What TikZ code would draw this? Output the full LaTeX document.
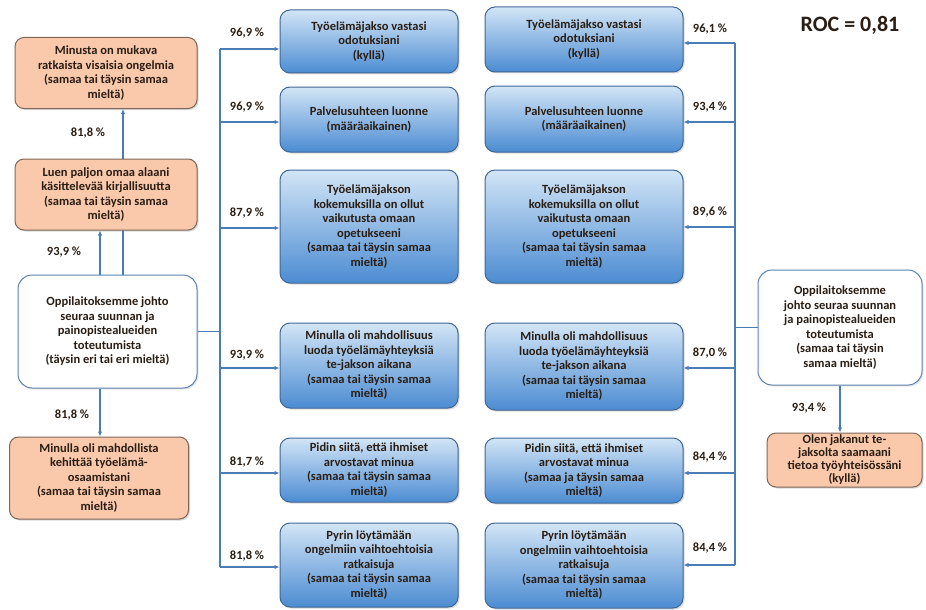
\documentclass[tikz,border=0pt]{standalone}
\usepackage{fontspec}
\setmainfont{Carlito}
\usetikzlibrary{arrows.meta,shadows,backgrounds}

\definecolor{txt}{HTML}{2A1E14}
\definecolor{conncol}{HTML}{4A7DB8}
\definecolor{bluetop}{HTML}{D2E5F6}
\definecolor{bluebot}{HTML}{4C8CD2}
\definecolor{blueedge}{HTML}{3F6896}
\definecolor{peach}{HTML}{FAC9AB}
\definecolor{peachedge}{HTML}{7E6658}
\definecolor{whiteedge}{HTML}{5B82AE}

\tikzset{
  boxtext/.style={font=\bfseries\fontsize{12.5}{14.5}\selectfont, text=txt, align=center, inner sep=1pt},
  bluebox/.style={boxtext, draw=blueedge, line width=1pt, rounded corners=10pt,
    top color=bluetop, bottom color=bluebot,
    drop shadow={opacity=0.3, shadow xshift=1.5pt, shadow yshift=-1.5pt}},
  peachbox/.style={boxtext, draw=peachedge, line width=1pt, rounded corners=9pt, fill=peach,
    drop shadow={opacity=0.3, shadow xshift=1.5pt, shadow yshift=-1.5pt}},
  whitebox/.style={boxtext, draw=whiteedge, line width=1pt, rounded corners=14pt, fill=white,
    drop shadow={opacity=0.2, shadow xshift=1.5pt, shadow yshift=-1.5pt}},
  pct/.style={font=\bfseries\fontsize{12.5}{14}\selectfont, text=txt, inner sep=1pt},
  wire/.style={draw=conncol, line width=1.1pt},
  conn/.style={wire, -{Latex[length=5pt,width=4.5pt]}},
}

\begin{document}
\begin{tikzpicture}[x=1pt, y=-1pt]
\useasboundingbox (0,0) rectangle (926,610);

% left column
\node[peachbox, minimum width=182pt, minimum height=71pt] (L1) at (106,73)
  {Minusta on mukava\\ratkaista visaisia ongelmia\\(samaa tai täysin samaa\\mieltä)};
\node[peachbox, minimum width=182pt, minimum height=71pt] (L2) at (106,194.5)
  {Luen paljon omaa alaani\\käsittelevää kirjallisuutta\\(samaa tai täysin samaa\\mieltä)};
\node[whitebox, minimum width=179pt, minimum height=113pt] (O) at (107.5,331.5)
  {Oppilaitoksemme johto\\seuraa suunnan ja\\painopistealueiden\\toteutumista\\(täysin eri tai eri mieltä)};
\node[peachbox, minimum width=179pt, minimum height=82pt] (L3) at (99,478)
  {Minulla oli mahdollista\\kehittää työelämä-\\osaamistani\\(samaa tai täysin samaa\\mieltä)};

% middle column
\node[bluebox, minimum width=178pt, minimum height=63pt] (M1) at (369,41.5)
  {Työelämäjakso vastasi\\odotuksiani\\(kyllä)};
\node[bluebox, minimum width=178pt, minimum height=65pt] (M2) at (369,119.5)
  {Palvelusuhteen luonne\\(määräaikainen)};
\node[bluebox, minimum width=178pt, minimum height=113pt] (M3) at (369,226.5)
  {Työelämäjakson\\kokemuksilla on ollut\\vaikutusta omaan\\opetukseeni\\(samaa tai täysin samaa\\mieltä)};
\node[bluebox, minimum width=178pt, minimum height=85pt] (M4) at (369,365.5)
  {Minulla oli mahdollisuus\\luoda työelämäyhteyksiä\\te-jakson aikana\\(samaa tai täysin samaa\\mieltä)};
\node[bluebox, minimum width=178pt, minimum height=64pt] (M5) at (369,470)
  {Pidin siitä, että ihmiset\\arvostavat minua\\(samaa tai täysin samaa\\mieltä)};
\node[bluebox, minimum width=178pt, minimum height=84pt] (M6) at (369,565)
  {Pyrin löytämään\\ongelmiin vaihtoehtoisia\\ratkaisuja\\(samaa tai täysin samaa\\mieltä)};

% right column
\node[bluebox, minimum width=198pt, minimum height=65pt] (R1) at (584,39.5)
  {Työelämäjakso vastasi\\odotuksiani\\(kyllä)};
\node[bluebox, minimum width=198pt, minimum height=66pt] (R2) at (584,119)
  {Palvelusuhteen luonne\\(määräaikainen)};
\node[bluebox, minimum width=198pt, minimum height=113pt] (R3) at (584,226.5)
  {Työelämäjakson\\kokemuksilla on ollut\\vaikutusta omaan\\opetukseeni\\(samaa tai täysin samaa\\mieltä)};
\node[bluebox, minimum width=198pt, minimum height=87pt] (R4) at (584,366.5)
  {Minulla oli mahdollisuus\\luoda työelämäyhteyksiä\\te-jakson aikana\\(samaa tai täysin samaa\\mieltä)};
\node[bluebox, minimum width=198pt, minimum height=65pt] (R5) at (584,470.5)
  {Pidin siitä, että ihmiset\\arvostavat minua\\(samaa ja täysin samaa\\mieltä)};
\node[bluebox, minimum width=198pt, minimum height=85pt] (R6) at (584,565.5)
  {Pyrin löytämään\\ongelmiin vaihtoehtoisia\\ratkaisuja\\(samaa tai täysin samaa\\mieltä)};

% far right
\node[whitebox, minimum width=164pt, minimum height=115pt] (O2) at (840,327.5)
  {Oppilaitoksemme\\johto seuraa suunnan\\ja painopistealueiden\\toteutumista\\(samaa tai täysin\\samaa mieltä)};
\node[peachbox, minimum width=155pt, minimum height=54pt, inner sep=0pt,
  font=\bfseries\fontsize{12.5}{13}\selectfont] (O3) at (844.5,460)
  {Olen jakanut te-\\jaksolta saamaani\\tietoa työyhteisössäni\\(kyllä)};

\node[font=\bfseries\fontsize{22}{24}\selectfont, text=txt] (roc) at (850,25) {ROC = 0,81};

% trunk points
\coordinate (a1) at (220,49);  \coordinate (a2) at (220,122);
\coordinate (a3) at (220,228); \coordinate (a4) at (220,368);
\coordinate (a5) at (220,473); \coordinate (a6) at (220,567);
\coordinate (b1) at (735,43);  \coordinate (b2) at (735,122);
\coordinate (b3) at (735,227); \coordinate (b4) at (735,368);
\coordinate (b5) at (735,473); \coordinate (b6) at (735,565);
\coordinate (v1) at (100,0);   \coordinate (v2) at (123,0);

% left column connectors
\begin{pgfonlayer}{background}
  \draw[conn] (O.north -| v2) -- (L1.south -| v2);
\end{pgfonlayer}
\draw[conn] (O.north -| v1) -- (L2.south -| v1);
\draw[conn] (O.south -| v1) -- (L3.north -| v1);

% left trunk
\draw[wire] (a1) -- (a6);
\draw[wire] (O.east) -- (O.east -| a1);
\foreach \i in {1,...,6} \draw[conn] (a\i) -- (M\i.west |- a\i);

% right trunk
\draw[wire] (b1) -- (b6);
\draw[wire] (O2.west) -- (O2.west -| b1);
\foreach \i in {1,...,6} \draw[conn] (b\i) -- (R\i.east |- b\i);
\draw[conn] (O2.south) -- (O3.north -| O2.south);

% percentages
\node[pct] (p1) at (88,133) {81,8 \%};
\node[pct] (p2) at (64,252) {93,9 \%};
\node[pct] (p3) at (72,415) {81,8 \%};
\node[pct] (pm1) at (247,33) {96,9 \%};
\node[pct] (pm2) at (247,107) {96,9 \%};
\node[pct] (pm3) at (247,213) {87,9 \%};
\node[pct] (pm4) at (247,355) {93,9 \%};
\node[pct] (pm5) at (247,462) {81,7 \%};
\node[pct] (pm6) at (247,556) {81,8 \%};
\node[pct] (pr1) at (710,29) {96,1 \%};
\node[pct] (pr2) at (710,107) {93,4 \%};
\node[pct] (pr3) at (710,212) {89,6 \%};
\node[pct] (pr4) at (710,353) {87,0 \%};
\node[pct] (pr5) at (710,457) {84,4 \%};
\node[pct] (pr6) at (710,548) {84,4 \%};
\node[pct] (po) at (809,408) {93,4 \%};
\end{tikzpicture}
\end{document}
